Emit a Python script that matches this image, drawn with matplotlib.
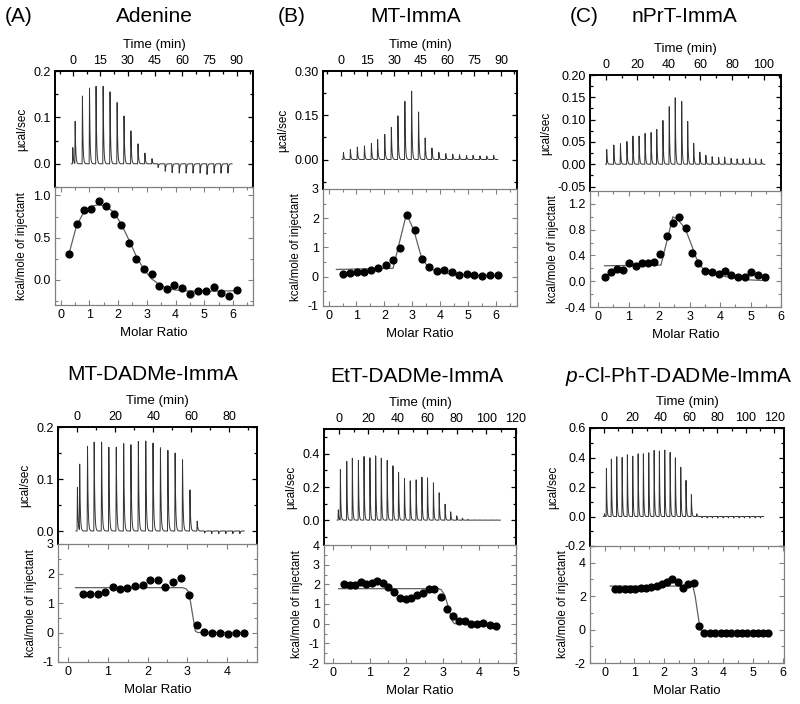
import numpy as np
import matplotlib
matplotlib.use("Agg")
import matplotlib.pyplot as plt
from matplotlib.ticker import MultipleLocator

plt.rcParams['font.family'] = ['Liberation Sans', 'DejaVu Sans']
plt.rcParams['axes.unicode_minus'] = False
plt.rcParams['mathtext.fontset'] = 'custom'
plt.rcParams['mathtext.rm'] = 'Liberation Sans'
plt.rcParams['mathtext.it'] = 'Liberation Sans:italic'

# ---- (A) Adenine ----
A_time = [-0.4, 0.9, 4.9, 8.8, 12.4, 16.3, 20.1, 24.0, 27.8, 31.6, 35.5, 39.3, 43.2,
          46.6, 50.5, 54.3, 58.2, 62.0, 65.8, 69.7, 73.5, 77.4, 81.2, 85.0]
A_peak = [0.035, 0.091, 0.146, 0.163, 0.167, 0.167, 0.155, 0.132, 0.103, 0.071, 0.043, 0.023, 0.011,
          -0.008, -0.016, -0.019, -0.020, -0.020, -0.020, -0.020, -0.023, -0.020, -0.020, -0.020]
A_ratio = [0.29, 0.55, 0.80, 1.06, 1.32, 1.59, 1.85, 2.11, 2.38, 2.63, 2.90, 3.17, 3.44, 3.69,
           3.96, 4.23, 4.51, 4.78, 5.06, 5.33, 5.59, 5.86, 6.14]
A_heat = [0.31, 0.66, 0.83, 0.84, 0.93, 0.87, 0.78, 0.65, 0.44, 0.25, 0.13, 0.07, -0.07, -0.11,
          -0.06, -0.10, -0.17, -0.13, -0.13, -0.09, -0.16, -0.19, -0.12]
A_fit_x = [0.29, 0.55, 0.80, 1.06, 1.32, 1.59, 1.85, 2.11, 2.38, 2.63, 2.90, 3.17, 3.44, 3.69,
           3.96, 4.23, 4.51, 5.06, 5.59, 6.14]
A_fit_y = [0.31, 0.64, 0.80, 0.87, 0.89, 0.87, 0.80, 0.66, 0.47, 0.28, 0.12, 0.01, -0.06, -0.10,
           -0.12, -0.13, -0.135, -0.135, -0.135, -0.13]

# ---- (B) MT-ImmA ----
B_time = [1.3, 5.2, 9.1, 13.1, 17.0, 20.5, 24.5, 28.2, 31.9, 35.8, 39.6, 43.5, 47.2, 51.0,
          54.9, 58.8, 62.7, 66.5, 70.4, 74.1, 78.0, 81.8, 85.7]
B_peak = [0.024, 0.034, 0.042, 0.046, 0.054, 0.068, 0.085, 0.109, 0.148, 0.197, 0.232, 0.161,
          0.073, 0.039, 0.024, 0.020, 0.018, 0.016, 0.014, 0.014, 0.012, 0.012, 0.014]
B_ratio = [0.51, 0.75, 1.02, 1.27, 1.53, 1.78, 2.04, 2.30, 2.55, 2.81, 3.08, 3.34, 3.60, 3.87,
           4.12, 4.41, 4.68, 4.95, 5.22, 5.50, 5.78, 6.06]
B_heat = [0.11, 0.13, 0.15, 0.17, 0.22, 0.31, 0.41, 0.56, 0.98, 2.10, 1.59, 0.61, 0.35, 0.19,
          0.22, 0.17, 0.06, 0.08, 0.07, 0.02, 0.05, 0.05]
B_fit_x = [0.28, 2.31, 2.79, 3.05, 3.34, 3.60, 3.90, 4.30, 4.80, 5.50, 6.06]
B_fit_y = [0.25, 0.29, 2.15, 1.60, 0.62, 0.30, 0.17, 0.10, 0.06, 0.04, 0.04]

# ---- (C) nPrT-ImmA ----
C_time = [0.4, 4.9, 9.1, 13.2, 17.0, 20.9, 24.7, 28.5, 32.1, 36.0, 40.0, 43.8, 47.9, 51.7,
          55.5, 59.4, 63.2, 67.2, 71.3, 75.1, 79.2, 83.0, 86.8, 90.9, 94.7, 98.3]
C_peak = [0.033, 0.043, 0.046, 0.051, 0.063, 0.063, 0.069, 0.071, 0.078, 0.098, 0.129, 0.149,
          0.141, 0.096, 0.047, 0.027, 0.020, 0.017, 0.015, 0.016, 0.013, 0.012, 0.012, 0.014,
          0.012, 0.011]
C_ratio = [0.21, 0.41, 0.61, 0.81, 1.01, 1.23, 1.43, 1.63, 1.84, 2.04, 2.25, 2.47, 2.66, 2.87,
           3.08, 3.29, 3.51, 3.73, 3.95, 4.16, 4.36, 4.58, 4.81, 5.02, 5.25, 5.48]
C_heat = [0.07, 0.14, 0.19, 0.17, 0.28, 0.24, 0.29, 0.29, 0.30, 0.43, 0.70, 0.90, 0.99, 0.83,
          0.44, 0.29, 0.16, 0.14, 0.11, 0.16, 0.10, 0.07, 0.06, 0.14, 0.10, 0.06]
C_fit_x = [0.21, 2.06, 2.45, 2.60, 2.75, 2.90, 3.05, 3.20, 3.35, 3.50, 3.70, 3.90, 4.20, 4.55,
           5.00, 5.48]
C_fit_y = [0.24, 0.25, 1.00, 0.96, 0.88, 0.76, 0.58, 0.38, 0.24, 0.17, 0.13, 0.10, 0.07, 0.04,
           0.02, 0.01]

# ---- MT-DADMe-ImmA ----
D_time = [0.0, 1.2, 5.3, 8.8, 12.7, 16.5, 20.4, 24.3, 28.1, 32.0, 35.9, 39.7, 43.6, 47.5,
          51.3, 55.2, 59.1, 62.9, 66.8, 70.5, 74.2, 77.9, 81.6, 85.3]
D_peak = [0.084, 0.127, 0.163, 0.171, 0.171, 0.161, 0.161, 0.168, 0.166, 0.172, 0.173, 0.169,
          0.160, 0.155, 0.150, 0.137, 0.079, 0.019, -0.004, -0.005, -0.005, -0.005, -0.005, -0.005]
D_ratio = [0.38, 0.56, 0.75, 0.93, 1.12, 1.31, 1.49, 1.69, 1.88, 2.06, 2.26, 2.45, 2.64, 2.83,
           3.04, 3.23, 3.42, 3.61, 3.82, 4.02, 4.22, 4.43]
D_heat = [1.31, 1.31, 1.31, 1.36, 1.55, 1.47, 1.50, 1.59, 1.60, 1.78, 1.77, 1.53, 1.70, 1.85,
          1.27, 0.24, 0.03, -0.02, -0.02, -0.05, -0.02, -0.02]
D_fit_x = [0.19, 2.88, 2.97, 3.04, 3.12, 3.20, 3.26, 4.48]
D_fit_y = [1.52, 1.52, 1.48, 1.36, 0.70, 0.05, 0.0, 0.0]

# ---- EtT-DADMe-ImmA ----
E_time = [-0.5, 0.9, 5.2, 9.0, 13.1, 16.9, 20.9, 24.8, 28.6, 32.6, 36.5, 40.3, 44.3, 48.2,
          52.2, 56.1, 59.9, 63.9, 67.8, 71.8, 75.6, 79.7, 83.5, 87.3, 91.4, 95.2, 99.3, 103.1, 106.9]
E_peak = [0.062, 0.304, 0.354, 0.374, 0.360, 0.384, 0.376, 0.388, 0.374, 0.360, 0.328, 0.287,
          0.251, 0.237, 0.243, 0.259, 0.255, 0.225, 0.165, 0.096, 0.050, 0.026, 0.012, 0.004,
          0.002, 0.001, 0.001, 0.001, 0.001]
E_ratio = [0.29, 0.45, 0.60, 0.75, 0.90, 1.06, 1.20, 1.36, 1.51, 1.67, 1.83, 1.98, 2.14, 2.29,
           2.45, 2.61, 2.76, 2.94, 3.10, 3.27, 3.43, 3.60, 3.77, 3.94, 4.11, 4.28, 4.46]
E_heat = [2.04, 1.99, 1.99, 2.13, 2.04, 2.09, 2.16, 2.09, 1.87, 1.62, 1.29, 1.26, 1.28, 1.48,
          1.58, 1.77, 1.77, 1.38, 0.77, 0.41, 0.14, 0.14, 0.0, -0.03, 0.02, -0.07, -0.10]
E_fit_x = [0.15, 2.88, 2.96, 3.05, 3.15, 3.25, 3.32, 4.46]
E_fit_y = [1.78, 1.78, 1.72, 1.45, 0.85, 0.15, 0.0, 0.0]

# ---- p-Cl-PhT-DADMe-ImmA ----
F_time = [0.0, 1.4, 4.9, 8.7, 12.5, 16.2, 20.0, 23.8, 27.5, 31.3, 35.1, 38.8, 42.6, 46.4,
          50.1, 53.9, 57.6, 61.4, 65.2, 68.9, 72.5, 76.2, 80.0, 83.8, 87.5, 91.3, 95.1, 98.8,
          102.6, 106.4, 110.1]
F_peak = [0.018, 0.325, 0.389, 0.405, 0.400, 0.418, 0.409, 0.425, 0.425, 0.432, 0.448, 0.443,
          0.450, 0.434, 0.398, 0.334, 0.245, 0.148, 0.018, -0.008, -0.01, -0.01, -0.01, -0.01,
          -0.01, -0.01, -0.01, -0.01, -0.01, -0.01, -0.01]
F_ratio = [0.33, 0.49, 0.67, 0.85, 1.02, 1.21, 1.39, 1.57, 1.75, 1.92, 2.10, 2.28, 2.46, 2.64,
           2.82, 3.00, 3.18, 3.36, 3.55, 3.73, 3.91, 4.09, 4.27, 4.45, 4.63, 4.81, 4.99, 5.17,
           5.35, 5.52]
F_heat = [2.40, 2.40, 2.42, 2.44, 2.44, 2.48, 2.50, 2.54, 2.62, 2.74, 2.86, 3.02, 2.82, 2.46,
          2.70, 2.80, 0.24, -0.20, -0.20, -0.20, -0.20, -0.20, -0.20, -0.20, -0.20, -0.20,
          -0.20, -0.22, -0.20, -0.20]
F_fit_x = [0.18, 2.50, 2.97, 3.05, 3.22, 3.35, 5.52]
F_fit_y = [2.60, 2.60, 2.62, 2.00, 0.00, -0.17, -0.17]

W, H = 800, 704
GRAY = '#808080'


def raw_trace(times, peaks):
    # sharp rise then fast return to baseline for each injection
    # (injection times themselves are on the grid so every peak hits its full height)
    grid = np.arange(times[0] - 0.6, times[-1] + 2.5, 0.02)
    t = np.unique(np.round(np.concatenate([grid, np.array(times) + 0.2]), 4))
    y = np.zeros_like(t)
    for ti, h in zip(times, peaks):
        s = t - ti
        rise = (s >= 0) & (s < 0.2)
        tail = s >= 0.2
        y[rise] += h * s[rise] / 0.2
        y[tail] += h * np.exp(-(s[tail] - 0.2) / 0.3)
    return t, y


def box(x0, x1, y0, y1):
    return [x0 / W, 1 - y1 / H, (x1 - x0) / W, (y1 - y0) / H]


def draw_panel(fig, xs, ys, time, peak, ratio, heat, fit_x, fit_y, up, low):
    x0, x1 = xs
    ytop, ymid, ybot = ys

    # raw thermogram
    ax = fig.add_axes(box(x0, x1, ytop, ymid))
    t, y = raw_trace(time, peak)
    ax.plot(t, y, color='#333333', lw=0.7)
    ax.set_xlim(*up['xlim'])
    ax.set_ylim(*up['ylim'])
    ax.set_xticks(up['xt'])
    ax.xaxis.set_minor_locator(MultipleLocator(up['xt'][1] / 2))
    ax.set_yticks(up['yt'])
    ax.set_yticklabels(up['ytl'])
    ax.yaxis.set_minor_locator(MultipleLocator(up['ym']))
    ax.xaxis.set_label_position('top')
    ax.set_xlabel('Time (min)', fontsize=9.5, labelpad=5)
    ax.set_ylabel('µcal/sec', fontsize=8.5)
    ax.tick_params(which='both', direction='in', top=True, right=True, bottom=False,
                   labeltop=True, labelbottom=False, labelsize=9, width=0.9, pad=3)
    ax.tick_params(which='major', length=3.5)
    ax.tick_params(which='minor', length=2)
    for s in ['top', 'left', 'right']:
        ax.spines[s].set_linewidth(1.4)
    ax.spines['bottom'].set_visible(False)

    # integrated heats
    bx = fig.add_axes(box(x0, x1, ymid, ybot))
    bx.plot(fit_x, fit_y, color='#606060', lw=0.9, zorder=2)
    bx.plot(ratio, heat, 'o', color='black', ms=4.9, zorder=3)
    bx.set_xlim(*low['xlim'])
    bx.set_ylim(*low['ylim'])
    bx.set_xticks(low['xt'])
    bx.xaxis.set_minor_locator(MultipleLocator(0.5))
    bx.set_yticks(low['yt'])
    bx.set_yticklabels(low['ytl'])
    bx.yaxis.set_minor_locator(MultipleLocator(low['ym']))
    bx.set_xlabel('Molar Ratio', fontsize=9.5, labelpad=4)
    bx.set_ylabel('kcal/mole of injectant', fontsize=8.3)
    bx.tick_params(which='both', direction='in', top=True, right=True, color=GRAY,
                   labelsize=9, width=0.8, pad=3)
    bx.tick_params(which='major', length=3.5)
    bx.tick_params(which='minor', length=2)
    for s in bx.spines.values():
        s.set_color(GRAY)
        s.set_linewidth(0.9)
    bx.patch.set_alpha(0)
    return ax, bx


fig = plt.figure(figsize=(W / 100, H / 100), dpi=100)

draw_panel(fig, (55, 253), (71, 187, 305), A_time, A_peak, A_ratio, A_heat, A_fit_x, A_fit_y,
           dict(xlim=(-10, 99), xt=[0, 15, 30, 45, 60, 75, 90], ylim=(-0.05, 0.2),
                yt=[0.0, 0.1, 0.2], ytl=['0.0', '0.1', '0.2'], ym=0.05),
           dict(xlim=(-0.2, 6.7), xt=[0, 1, 2, 3, 4, 5, 6], ylim=(-0.3, 1.1),
                yt=[0.0, 0.5, 1.0], ytl=['0.0', '0.5', '1.0'], ym=0.25))

draw_panel(fig, (323, 517), (71, 189, 306), B_time, B_peak, B_ratio, B_heat, B_fit_x, B_fit_y,
           dict(xlim=(-10, 99), xt=[0, 15, 30, 45, 60, 75, 90], ylim=(-0.1, 0.3),
                yt=[0.0, 0.15, 0.3], ytl=['0.00', '0.15', '0.30'], ym=0.075),
           dict(xlim=(-0.2, 6.75), xt=[0, 1, 2, 3, 4, 5, 6], ylim=(-1, 3),
                yt=[-1, 0, 1, 2, 3], ytl=['-1', '0', '1', '2', '3'], ym=0.5))

draw_panel(fig, (590, 781), (75, 191, 307), C_time, C_peak, C_ratio, C_heat, C_fit_x, C_fit_y,
           dict(xlim=(-10, 111), xt=[0, 20, 40, 60, 80, 100], ylim=(-0.06, 0.2),
                yt=[-0.05, 0.0, 0.05, 0.1, 0.15, 0.2],
                ytl=['-0.05', '0.00', '0.05', '0.10', '0.15', '0.20'], ym=0.025),
           dict(xlim=(-0.27, 6.0), xt=[0, 1, 2, 3, 4, 5, 6], ylim=(-0.4, 1.4),
                yt=[-0.4, 0.0, 0.4, 0.8, 1.2], ytl=['-0.4', '0.0', '0.4', '0.8', '1.2'], ym=0.2))

draw_panel(fig, (58, 257), (427, 544, 662), D_time, D_peak, D_ratio, D_heat, D_fit_x, D_fit_y,
           dict(xlim=(-10, 94.5), xt=[0, 20, 40, 60, 80], ylim=(-0.025, 0.2),
                yt=[0.0, 0.1, 0.2], ytl=['0.0', '0.1', '0.2'], ym=0.05),
           dict(xlim=(-0.25, 4.75), xt=[0, 1, 2, 3, 4], ylim=(-1, 3),
                yt=[-1, 0, 1, 2, 3], ytl=['-1', '0', '1', '2', '3'], ym=0.5))

draw_panel(fig, (324, 516), (429, 545, 663), E_time, E_peak, E_ratio, E_heat, E_fit_x, E_fit_y,
           dict(xlim=(-10, 120), xt=[0, 20, 40, 60, 80, 100, 120], ylim=(-0.15, 0.55),
                yt=[0.0, 0.2, 0.4], ytl=['0.0', '0.2', '0.4'], ym=0.1),
           dict(xlim=(-0.25, 5.0), xt=[0, 1, 2, 3, 4, 5], ylim=(-2, 4),
                yt=[-2, -1, 0, 1, 2, 3, 4], ytl=['-2', '-1', '0', '1', '2', '3', '4'], ym=0.5))

draw_panel(fig, (590, 784), (428, 546, 663), F_time, F_peak, F_ratio, F_heat, F_fit_x, F_fit_y,
           dict(xlim=(-10, 127), xt=[0, 20, 40, 60, 80, 100, 120], ylim=(-0.2, 0.6),
                yt=[-0.2, 0.0, 0.2, 0.4, 0.6], ytl=['-0.2', '0.0', '0.2', '0.4', '0.6'], ym=0.1),
           dict(xlim=(-0.5, 6.05), xt=[0, 1, 2, 3, 4, 5, 6], ylim=(-2, 5),
                yt=[-2, 0, 2, 4], ytl=['-2', '0', '2', '4'], ym=1))

# panel titles
tsize = 15
fig.text(19 / W, 1 - 16 / H, '(A)', fontsize=tsize, ha='center', va='center')
fig.text(154 / W, 1 - 16 / H, 'Adenine', fontsize=tsize, ha='center', va='center')
fig.text(292 / W, 1 - 16 / H, '(B)', fontsize=tsize, ha='center', va='center')
fig.text(416 / W, 1 - 16 / H, 'MT-ImmA', fontsize=tsize, ha='center', va='center')
fig.text(584 / W, 1 - 16 / H, '(C)', fontsize=tsize, ha='center', va='center')
fig.text(684 / W, 1 - 16 / H, 'nPrT-ImmA', fontsize=tsize, ha='center', va='center')
fig.text(153 / W, 1 - 374 / H, 'MT-DADMe-ImmA', fontsize=tsize, ha='center', va='center')
fig.text(417 / W, 1 - 376 / H, 'EtT-DADMe-ImmA', fontsize=tsize, ha='center', va='center')
fig.text(679 / W, 1 - 376 / H, r'$\it{p}$-Cl-PhT-DADMe-ImmA', fontsize=tsize,
         ha='center', va='center')

fig.savefig('out.png', dpi=100)
